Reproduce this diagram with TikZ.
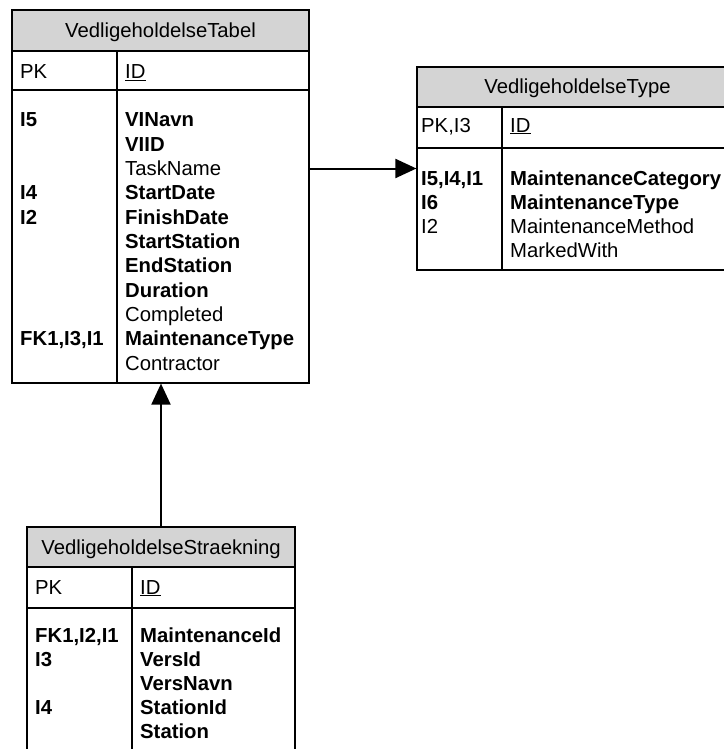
\documentclass[tikz,border=0pt]{standalone}
\usepackage{fontspec}
\setmainfont{Liberation Sans}
\usetikzlibrary{arrows.meta}
\definecolor{hdgray}{RGB}{212,212,212}
\tikzset{
    tbl/.style={draw,line width=1.2pt,inner sep=0pt},
    hd/.style={tbl,fill=hdgray,text height=14pt,text depth=0pt},
    fld/.style={anchor=base west,inner sep=0pt},
    key/.style={fld,font=\bfseries},
    conn/.style={line width=2pt,-{Triangle[length=21pt,width=19pt]}},
}
\begin{document}
\fontsize{20.3}{24}\selectfont
\begin{tikzpicture}[x=1pt,y=-1pt]
    \useasboundingbox (0,0) rectangle (723,749);
    \node[tbl,minimum width=297,minimum height=373] (tabel) at (160.5,196.5) {};
    \node[hd,minimum width=297,minimum height=41] (tabelhd) at (160.5,30.5) {VedligeholdelseTabel};
    \draw[tbl] (12,90) -- (309,90);
    \draw[tbl] (117,51) -- (117,383);
    \node[fld] (tabelpk) at (20,79) {PK};
    \node[fld] (tabelid) at (125,79) {\underline{ID}};
    \node[key] (tabelk1) at (20,127) {I5};
    \node[key] (tabelk4) at (20,199.9) {I4};
    \node[key] (tabelk5) at (20,224.2) {I2};
    \node[key] (tabelk10) at (20,345.7) {FK1,I3,I1};
    \foreach \f [count=\i from 0] in {\textbf{VINavn},\textbf{VIID},TaskName,\textbf{StartDate},
        \textbf{FinishDate},\textbf{StartStation},\textbf{EndStation},\textbf{Duration},
        Completed,\textbf{MaintenanceType},Contractor}
        \node[fld] (tabelf\i) at (125,127+24.3*\i) {\f};

    \node[tbl,minimum width=321,minimum height=203] (type) at (577.5,168.5) {};
    \node[hd,minimum width=321,minimum height=40] (typehd) at (577.5,87) {VedligeholdelseType};
    \draw[tbl] (417,148) -- (738,148);
    \draw[tbl] (502,107) -- (502,270);
    \node[fld] (typepk) at (421,132) {PK,I3};
    \node[fld] (typeid) at (510,132) {\underline{ID}};
    \node[key] (typek1) at (421,185) {I5,I4,I1};
    \node[key] (typek2) at (421,209) {I6};
    \node[fld] (typek3) at (421,233) {I2};
    \foreach \f [count=\i from 0] in {\textbf{MaintenanceCategory},\textbf{MaintenanceType},
        MaintenanceMethod,MarkedWith}
        \node[fld] (typef\i) at (510,185+24*\i) {\f};

    \node[tbl,minimum width=268,minimum height=243] (straek) at (161,648.5) {};
    \node[hd,minimum width=268,minimum height=40] (straekhd) at (161,547) {VedligeholdelseStraekning};
    \draw[tbl] (27,608) -- (295,608);
    \draw[tbl] (132,567) -- (132,770);
    \node[fld] (straekpk) at (35,594) {PK};
    \node[fld] (straekid) at (140,594) {\underline{ID}};
    \node[key] (straekk1) at (35,642) {FK1,I2,I1};
    \node[key] (straekk2) at (35,666.2) {I3};
    \node[key] (straekk4) at (35,714.6) {I4};
    \foreach \f [count=\i from 0] in {MaintenanceId,VersId,VersNavn,StationId,Station}
        \node[key] (straekf\i) at (140,642+24.2*\i) {\f};

    \draw[conn] (tabel.east |- type.west) -- (type.west);
    \draw[conn] (straek.north) -- (straek.north |- tabel.south);
\end{tikzpicture}
\end{document}
